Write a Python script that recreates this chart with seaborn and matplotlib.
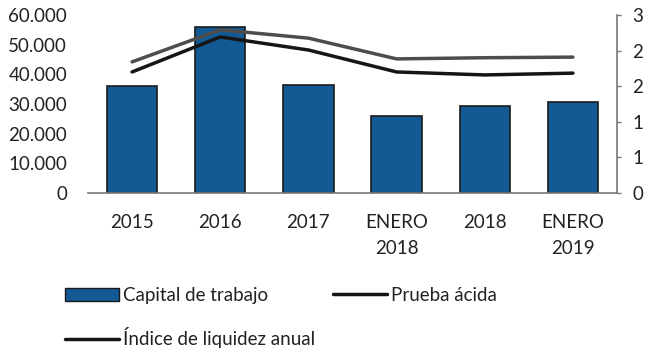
import matplotlib
matplotlib.use("Agg")
import matplotlib.pyplot as plt
import seaborn as sns
import numpy as np
import pandas as pd
from matplotlib.ticker import FuncFormatter, FixedLocator
from matplotlib.patches import Patch
from matplotlib.lines import Line2D

periodos = ["2015", "2016", "2017", "ENERO\n2018", "2018", "ENERO\n2019"]
capital_trabajo = [36000, 56000, 36500, 26000, 29300, 30700]
indice_liquidez = [2.21, 2.75, 2.61, 2.26, 2.28, 2.29]
prueba_acida = [2.04, 2.63, 2.41, 2.04, 1.99, 2.02]

sns.set_theme(style="white")
plt.rcParams["font.family"] = ["Lato", "DejaVu Sans"]

FS = 13.5
TXT = "#222222"

df = pd.DataFrame({
    "periodo": periodos,
    "capital": capital_trabajo,
    "pos": np.arange(len(periodos)),
    "liquidez": indice_liquidez,
    "acida": prueba_acida,
})

fig = plt.figure(figsize=(6.46, 3.51), dpi=100)
ax = fig.add_axes([88 / 646, 1 - 193 / 351, (617 - 88) / 646, (193 - 15) / 351])

bar_color = "#135a94"
sns.barplot(data=df, x="periodo", y="capital", ax=ax, color=bar_color,
            width=0.57, edgecolor="#1a1a1a", linewidth=1.2, saturation=1)
ax.set_ylim(0, 60000)
ax.set_xlim(-0.5, len(periodos) - 0.5)
ax.set_xlabel("")
ax.set_ylabel("")
ax.yaxis.set_major_locator(FixedLocator(np.arange(0, 60001, 10000)))
ax.yaxis.set_major_formatter(FuncFormatter(lambda v, p: f"{int(v):,}".replace(",", ".")))
ax.tick_params(axis="y", length=0, labelsize=FS, pad=15, colors=TXT)
ax.tick_params(axis="x", length=0, labelsize=FS, pad=15, colors=TXT)
for lbl in ax.get_xticklabels():
    lbl.set_linespacing(1.65)
for s in ["left", "top", "right"]:
    ax.spines[s].set_visible(False)
ax.spines["bottom"].set_color("#777777")
ax.spines["bottom"].set_linewidth(1.2)
ax.grid(False)

ax2 = ax.twinx()
sns.lineplot(data=df, x="pos", y="liquidez", ax=ax2, color="#4d4d4d", linewidth=2.5)
sns.lineplot(data=df, x="pos", y="acida", ax=ax2, color="#151515", linewidth=2.5)
ax2.set_ylim(0, 3)
ax2.set_xlim(-0.5, len(periodos) - 0.5)
ax2.set_xlabel("")
ax2.set_ylabel("")
ax2.yaxis.set_major_locator(FixedLocator(np.linspace(0, 3, 6)))
ax2.yaxis.set_major_formatter(FuncFormatter(lambda v, p: f"{v:.0f}"))
ax2.tick_params(axis="y", length=3, width=1, labelsize=FS, pad=8,
                colors="#777777", labelcolor=TXT, direction="out")
for s in ["left", "top", "bottom"]:
    ax2.spines[s].set_visible(False)
ax2.spines["right"].set_color("#777777")
ax2.spines["right"].set_linewidth(1.2)
ax2.grid(False)

legend_kw = dict(loc="upper left", frameon=False, fontsize=FS,
                 handlelength=2.9, handletextpad=0.2, labelspacing=1.25,
                 borderaxespad=0, borderpad=0, labelcolor=TXT)
leg1 = fig.legend(
    [Patch(facecolor=bar_color, edgecolor="#1a1a1a", linewidth=1.0),
     Line2D([], [], color="#151515", linewidth=2.5)],
    ["Capital de trabajo", "Índice de liquidez anual"],
    bbox_to_anchor=(65 / 646, 1 - 287 / 351), **legend_kw)
leg2 = fig.legend(
    [Line2D([], [], color="#151515", linewidth=2.5)],
    ["Prueba ácida"],
    bbox_to_anchor=(333 / 646, 1 - 287 / 351), **legend_kw)

fig.savefig("out.png", dpi=100)
